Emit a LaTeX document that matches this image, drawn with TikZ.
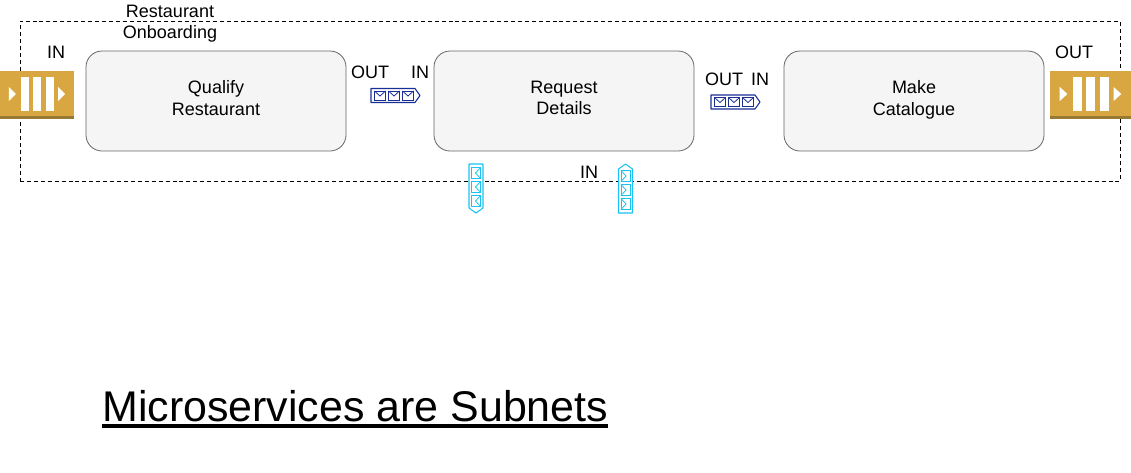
\documentclass[tikz,border=0pt]{standalone}
\usepackage{fontspec}
\setmainfont{Liberation Sans}
\usetikzlibrary{positioning,calc}
\definecolor{gold}{HTML}{D9A741}
\definecolor{golddark}{HTML}{997A33}
\definecolor{mailblue}{HTML}{1A2F96}
\definecolor{mailcyan}{HTML}{1CC3F0}
\definecolor{boxfill}{HTML}{F5F5F5}
\definecolor{boxline}{HTML}{666666}
\tikzset{
  service/.style={draw=boxline, fill=boxfill, rounded corners=12pt, align=center, minimum width=195pt, minimum height=75pt, inner sep=0pt, text depth=4.5pt, font=\fontsize{13.5}{15.8}\selectfont, line width=0.6pt},
  subnet/.style={draw=black, dash pattern=on 3pt off 2.2pt, line width=0.55pt, minimum width=825pt, minimum height=120pt, inner sep=0pt},
  lbl/.style={font=\fontsize{13.5}{15.8}\selectfont, inner sep=0pt, align=center},
  heading/.style={font=\fontsize{32.2}{38}\selectfont, inner sep=0pt, anchor=base west},
  pics/goldqueue/.style={code={
    \fill[gold] (0,0) rectangle (#1,48);
    \fill[golddark] (0,45) rectangle (#1,48);
    \foreach \barx in {0.284,0.446,0.62}
      \fill[white] (\barx*#1,6) rectangle ++(0.105*#1,33.5);
    \fill[white] (0.12*#1,16) -- (0.215*#1,23) -- (0.12*#1,30) -- cycle;
    \fill[white] (0.785*#1,16) -- (0.88*#1,23) -- (0.785*#1,30) -- cycle;
  }},
  pics/mailstrip/.style={code={
    \draw[#1, line width=0.8pt, fill=white, line join=round] (0,-7) -- (44,-7) -- (49,0) -- (44,7) -- (0,7) -- cycle;
    \foreach \mailx in {3.5,17.5,31.5} {
      \draw[#1, line width=0.75pt] (\mailx,-4.5) rectangle ++(11,9);
      \draw[#1, line width=0.6pt] (\mailx,-4.5) -- ++(5.5,5) -- ++(5.5,-5);
    }
  }},
}

\begin{document}
\begin{tikzpicture}[x=0.75pt, y=-0.75pt]
  \useasboundingbox (0,0) rectangle (1131,472);

  \node[subnet] (onboarding) at (570,101) {};
  \node[service] (qualify) at (216,101) {Qualify\\Restaurant};
  \node[service] (request) at (564,101) {Request\\Details};
  \node[service] (catalogue) at (914,101) {Make\\Catalogue};

  \pic at (0,71) {goldqueue=74};
  \pic at (1050,71) {goldqueue=81};
  \pic at (371,95.5) {mailstrip=mailblue};
  \pic at (711,102) {mailstrip=mailblue};
  \pic[rotate=-90] at (476,164) {mailstrip=mailcyan};
  \pic[rotate=90] at (625.5,213) {mailstrip=mailcyan};

  \node[lbl] (title) at (170,24) {Restaurant\\Onboarding};
  \node[lbl] (inleft) at (56,52) {IN};
  \node[lbl] (outqualify) at (370,72) {OUT};
  \node[lbl] (inrequest) at (420,72) {IN};
  \node[lbl] (outrequest) at (724,79) {OUT};
  \node[lbl] (incatalogue) at (760,79) {IN};
  \node[lbl] (outright) at (1074,52) {OUT};
  \node[lbl] (inbelow) at (589,172) {IN};

  \node[heading] (caption) at (102,421.5) {Microservices are Subnets};
  \draw[line width=3pt] ($(caption.base west)+(0,4.5)$) -- ($(caption.base east)+(0,4.5)$);
\end{tikzpicture}
\end{document}
